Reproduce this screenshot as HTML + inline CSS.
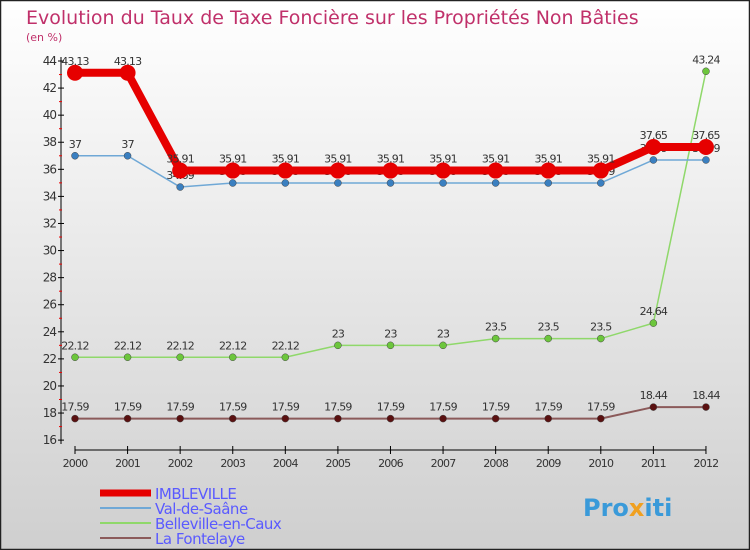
<!DOCTYPE html>
<html><head><meta charset="utf-8"><style>
body{margin:0;width:750px;height:550px;overflow:hidden}
svg{display:block;font-family:"DejaVu Sans","Liberation Sans",sans-serif}
</style></head><body>
<svg id="c" width="750" height="550" xmlns="http://www.w3.org/2000/svg">
<defs><linearGradient id="bg" x1="0" y1="0" x2="0" y2="1"><stop offset="0" stop-color="#ffffff"/><stop offset="1" stop-color="#cfcfcf"/></linearGradient></defs>
<rect x="0.5" y="0.5" width="749" height="549" fill="url(#bg)" stroke="#222" stroke-width="1.5"/>
<text x="26" y="24" font-size="19" fill="#c0306a">Evolution du Taux de Taxe Foncière sur les Propriétés Non Bâties</text>
<text x="26" y="41" font-size="11" fill="#c0306a">(en %)</text>
<g id="axes"></g><g id="series"></g><g id="legend"></g>
<text x="583" y="516" font-size="24" font-weight="bold" fill="#3a9ad9">Pro<tspan fill="#f0a020">x</tspan>iti</text>
</svg>
<script>
const years=[2000,2001,2002,2003,2004,2005,2006,2007,2008,2009,2010,2011,2012];
const yTicks=[16,18,20,22,24,26,28,30,32,34,36,38,40,42,44];
const imbleville=[43.13,43.13,35.91,35.91,35.91,35.91,35.91,35.91,35.91,35.91,35.91,37.65,37.65];
const valDeSaane=[37,37,34.69,34.99,34.99,34.99,34.99,34.99,34.99,34.99,34.99,36.69,36.69];
const belleville=[22.12,22.12,22.12,22.12,22.12,23,23,23,23.5,23.5,23.5,24.64,43.24];
const fontelaye=[17.59,17.59,17.59,17.59,17.59,17.59,17.59,17.59,17.59,17.59,17.59,18.44,18.44];
const names=["IMBLEVILLE","Val-de-Saâne","Belleville-en-Caux","La Fontelaye"];
const NS="http://www.w3.org/2000/svg";
const X=i=>75+i*52.58, Y=v=>61+(44-v)*13.54;
function mk(t,a,p){const e=document.createElementNS(NS,t);for(const k in a)e.setAttribute(k,a[k]);p.appendChild(e);return e;}
const ax=document.getElementById('axes');
let l=mk('line',{x1:61,y1:57,x2:61,y2:444,stroke:'#000','stroke-width':1},ax);


l=mk('line',{x1:75,y1:450,x2:706,y2:450,stroke:'#000','stroke-width':1},ax);


yTicks.forEach(v=>{mk('line',{x1:58,x2:64,y1:Y(v),y2:Y(v),stroke:'#000'},ax);
 if(v<44)mk('line',{x1:59,x2:62,y1:Y(v+1),y2:Y(v+1),stroke:'#e00'},ax);
 const t=mk('text',{x:56,y:Y(v)+4,'font-size':12,'text-anchor':'end',fill:'#333','letter-spacing':'-1'},ax);t.textContent=v;
 
 });
years.forEach((y,i)=>{mk('line',{x1:X(i),x2:X(i),y1:446,y2:454,stroke:'#000'},ax);
 const t=mk('text',{x:X(i),y:467,'font-size':11,'text-anchor':'middle',fill:'#333','letter-spacing':'-0.8'},ax);t.textContent=y;
 
 });
const sg=document.getElementById('series');
const defs=[[fontelaye,'#8b5a5a','#5a1010',2,3.5,'fontelaye'],[belleville,'#8fd86a','#6cc63c',1.5,3.5,'belleville'],[valDeSaane,'#6fa8d6','#3a7fc0',1.5,3.5,'val-de-saane'],[imbleville,'#e60000','#e60000',8,8,'imbleville']];
defs.forEach(([d,lc,pc,w,r,n])=>{
 const p=mk('polyline',{points:d.map((v,i)=>X(i)+','+Y(v)).join(' '),fill:'none',stroke:lc,'stroke-width':w,'stroke-linejoin':'round'},sg);
 
 
 d.forEach((v,i)=>{const c=mk('circle',{cx:X(i),cy:Y(v),r:r,fill:pc,stroke:r>5?'none':'#444','stroke-width':0.5},sg);
  
  
  const t=mk('text',{x:X(i),y:Y(v)-8,'font-size':11,'text-anchor':'middle',fill:'#333','letter-spacing':'-0.8'},sg);t.textContent=v;
  
  });
});
const lg=document.getElementById('legend');
[['#e60000',7],['#6fa8d6',2],['#8fd86a',2],['#8b5a5a',2]].forEach(([c,w],i)=>{
 const yy=493+i*15;
 const ln=mk('line',{x1:100,x2:151,y1:yy,y2:yy,stroke:c,'stroke-width':w},lg);
 
 
 const t=mk('text',{x:155,y:yy+6,'font-size':15,fill:'#5a5aff','letter-spacing':'-0.5'},lg);t.textContent=names[i];
 
 
});
</script>
</body></html>
